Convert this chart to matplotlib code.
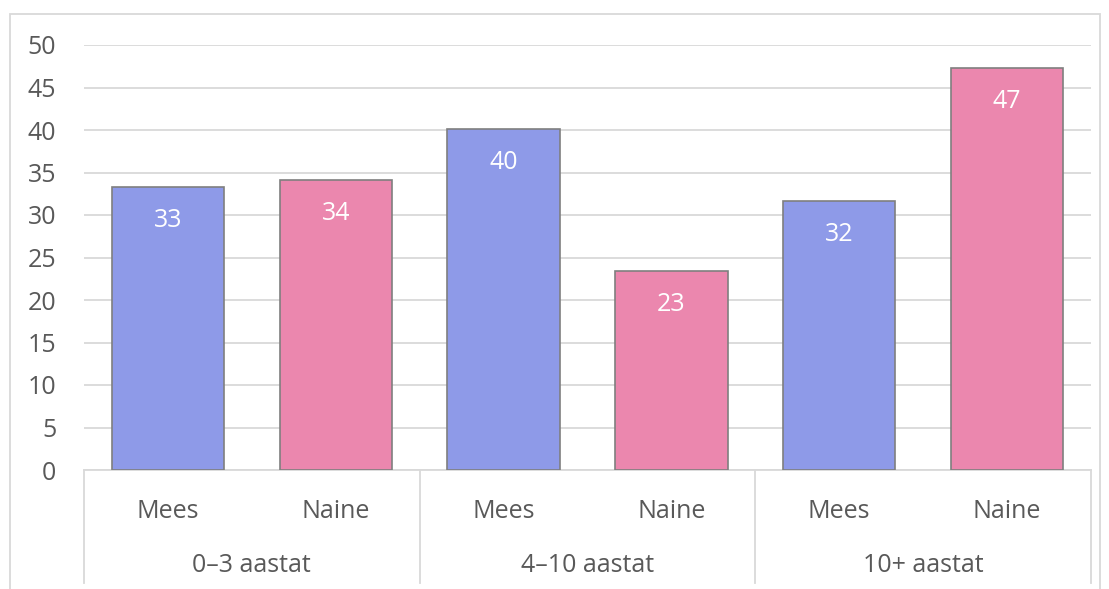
import matplotlib
matplotlib.use("Agg")
import matplotlib.pyplot as plt
from matplotlib.lines import Line2D
from matplotlib.patches import Rectangle

groups = ["0–3 aastat", "4–10 aastat", "10+ aastat"]
sexes = ["Mees", "Naine", "Mees", "Naine", "Mees", "Naine"]
values = [33.3, 34.1, 40.1, 23.4, 31.6, 47.3]
labels = ["33", "34", "40", "23", "32", "47"]
yticks = [0, 5, 10, 15, 20, 25, 30, 35, 40, 45, 50]

blue = "#8E9AE8"
pink = "#EB87AE"
colors = [blue, pink] * 3
txt = "#595959"
grid = "#D9D9D9"
plt.rcParams['font.family'] = ['Open Sans', 'DejaVu Sans']
fs = 18

W, H = 1109, 589
fig = plt.figure(figsize=(W / 100, H / 100), dpi=100)
x0, x1 = 84, 1091
y0, y50 = 470, 45
ph = y0 - y50
ax = fig.add_axes([x0 / W, 1 - y0 / H, (x1 - x0) / W, ph / H])

n = len(values)
xs = list(range(n))
ax.set_xlim(-0.5, n - 0.5)
ax.set_ylim(0, 50)
ax.bar(xs, values, width=0.67, color=colors, edgecolor="#7F7F7F", linewidth=1.2, zorder=3)
for x, v, l in zip(xs, values, labels):
    ax.text(x, v - 3.95, l, ha="center", va="center", color="white", fontsize=fs, zorder=4)

ax.set_yticks(yticks)
ax.set_yticklabels([str(t) for t in yticks], fontsize=fs, color=txt)
ax.tick_params(axis="y", length=0, pad=20)
ax.yaxis.grid(True, color=grid, linewidth=1.3, zorder=0)
ax.set_xticks([])
for s in ["top", "right", "left"]:
    ax.spines[s].set_visible(False)
ax.spines["bottom"].set_color(grid)
ax.spines["bottom"].set_linewidth(1.3)

# category axis (two-level)
trans = ax.get_xaxis_transform()
for x, s in zip(xs, sexes):
    ax.text(x, -41 / ph, s, transform=trans, ha="center", va="center",
            fontsize=fs, color=txt, clip_on=False)
for gi, g in enumerate(groups):
    ax.text(gi * 2 + 0.5, -96 / ph, g, transform=trans, ha="center", va="center",
            fontsize=fs, color=txt, clip_on=False)
for b in [-0.5, 1.5, 3.5, 5.5]:
    ax.add_line(Line2D([b, b], [0, -113 / ph], transform=trans, color=grid,
                       linewidth=1.3, clip_on=False))

# outer chart frame
fig.add_artist(Rectangle((10 / W, -0.05), (1100 - 10) / W, 1.05 - 14 / H,
                         transform=fig.transFigure, fill=False, edgecolor=grid, linewidth=1.3))

fig.savefig("out.png", dpi=100, facecolor="white")
